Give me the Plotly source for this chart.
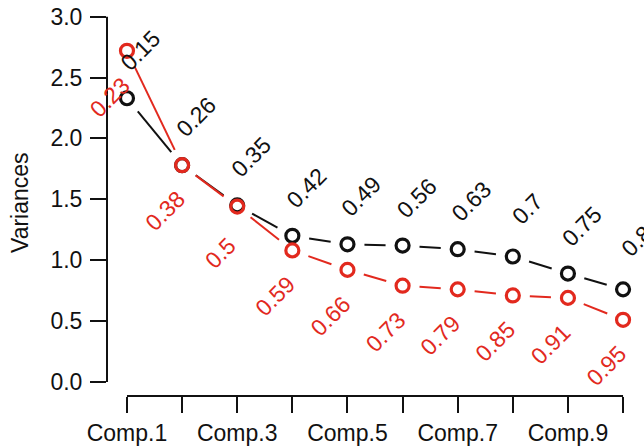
import plotly.graph_objects as go
import math

categories = ["Comp.1", "Comp.2", "Comp.3", "Comp.4", "Comp.5",
              "Comp.6", "Comp.7", "Comp.8", "Comp.9", "Comp.10"]
var_black = [2.33, 1.78, 1.45, 1.20, 1.13, 1.12, 1.09, 1.03, 0.89, 0.76]
var_red = [2.72, 1.78, 1.44, 1.08, 0.92, 0.79, 0.76, 0.71, 0.69, 0.51]
cum_black = ["0.15", "0.26", "0.35", "0.42", "0.49", "0.56", "0.63", "0.7", "0.75", "0.8"]
cum_red = ["0.23", "0.38", "0.5", "0.59", "0.66", "0.73", "0.79", "0.85", "0.91", "0.95"]
y_ticks = [0.0, 0.5, 1.0, 1.5, 2.0, 2.5, 3.0]

W, H = 644, 447
ML, MR, MT, MB = 107, 0, 10, 51
XR = [0.6375, 10.38]
YR = [-0.116, 3.055]
BLACK = "#111111"
RED = "#E2291E"
FONT = "Liberation Sans, Arial, sans-serif"
FS = 23

xs = list(range(1, len(categories) + 1))
sx = (W - ML - MR) / (XR[1] - XR[0])
sy = (H - MT - MB) / (YR[1] - YR[0])
GAP = 17


def gapped(xv, yv):
    ox, oy = [], []
    for i in range(len(xv) - 1):
        x0p, y0p = xv[i] * sx, yv[i] * sy
        x1p, y1p = xv[i + 1] * sx, yv[i + 1] * sy
        dx, dy = x1p - x0p, y1p - y0p
        L = math.hypot(dx, dy)
        if L <= 2 * GAP:
            continue
        ux, uy = dx / L, dy / L
        ox += [(x0p + GAP * ux) / sx, (x1p - GAP * ux) / sx, None]
        oy += [(y0p + GAP * uy) / sy, (y1p - GAP * uy) / sy, None]
    return ox, oy


fig = go.Figure()
for vals, col in [(var_black, BLACK), (var_red, RED)]:
    lx, ly = gapped(xs, vals)
    fig.add_trace(go.Scatter(x=lx, y=ly, mode="lines",
                             line=dict(color=col, width=2),
                             hoverinfo="skip", showlegend=False, cliponaxis=False))
    fig.add_trace(go.Scatter(x=xs, y=vals, mode="markers",
                             marker=dict(symbol="circle-open", size=13, color=col,
                                         line=dict(width=3.2, color=col)),
                             showlegend=False, cliponaxis=False))

ann = []
for x, v, t in zip(xs, var_black, cum_black):
    ann.append(dict(x=x, y=v, text=t, showarrow=False, textangle=-45,
                    xshift=14, yshift=48, font=dict(family=FONT, size=FS, color=BLACK)))
for x, v, t in zip(xs, var_red, cum_red):
    ann.append(dict(x=x, y=v, text=t, showarrow=False, textangle=-45,
                    xshift=-17, yshift=-46, font=dict(family=FONT, size=FS, color=RED)))
ann.append(dict(x=-0.162, y=0.5, xref="paper", yref="paper", xanchor="center",
                yanchor="middle", text="Variances", textangle=-90, showarrow=False,
                font=dict(family=FONT, size=FS, color=BLACK)))

shapes = [
    dict(type="line", xref="paper", yref="y", x0=0, x1=0, y0=y_ticks[0], y1=y_ticks[-1],
         line=dict(color=BLACK, width=2)),
    dict(type="line", xref="x", yref="paper", x0=xs[0], x1=xs[-1], y0=0, y1=0,
         line=dict(color=BLACK, width=2)),
]

ticktext = [c if i % 2 == 0 else "" for i, c in enumerate(categories)]

fig.update_layout(
    width=W, height=H,
    margin=dict(l=ML, r=MR, t=MT, b=MB, autoexpand=False),
    plot_bgcolor="white", paper_bgcolor="white",
    font=dict(family=FONT, size=FS, color=BLACK),
    annotations=ann, shapes=shapes,
    xaxis=dict(range=XR, tickvals=xs, ticktext=ticktext, showgrid=False, zeroline=False,
               showline=False, ticks="outside", ticklen=16, tickwidth=2, tickcolor=BLACK,
               ticklabelstandoff=0, automargin=False,
               tickfont=dict(family=FONT, size=FS, color=BLACK)),
    yaxis=dict(range=YR, tickvals=y_ticks, ticktext=[f"{v:.1f}" for v in y_ticks],
               showgrid=False, zeroline=False, showline=False, ticks="outside",
               ticklen=16, tickwidth=2, tickcolor=BLACK, ticklabelstandoff=3,
               automargin=False, tickfont=dict(family=FONT, size=FS, color=BLACK)),
)

fig.write_html("out.html", config={"displayModeBar": False},
               post_script="document.body.style.margin='0';")
